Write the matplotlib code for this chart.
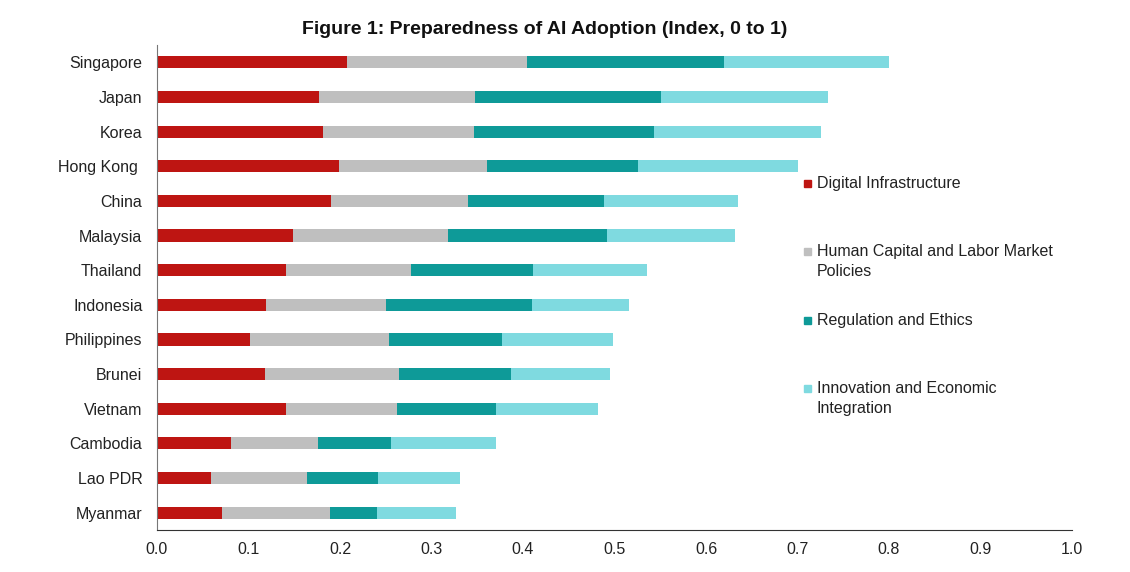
import numpy as np
import matplotlib.pyplot as plt
from matplotlib.patches import Rectangle

countries = ["Singapore", "Japan", "Korea", "Hong Kong ", "China", "Malaysia", "Thailand",
             "Indonesia", "Philippines", "Brunei", "Vietnam", "Cambodia", "Lao PDR", "Myanmar"]

digital = [0.208, 0.177, 0.181, 0.199, 0.190, 0.149, 0.141, 0.119, 0.102, 0.118, 0.141, 0.081, 0.059, 0.071]
human = [0.196, 0.171, 0.165, 0.162, 0.150, 0.169, 0.137, 0.131, 0.152, 0.147, 0.121, 0.095, 0.105, 0.118]
regulation = [0.216, 0.203, 0.197, 0.165, 0.148, 0.174, 0.133, 0.160, 0.123, 0.122, 0.109, 0.080, 0.077, 0.051]
innovation = [0.180, 0.182, 0.183, 0.175, 0.147, 0.140, 0.125, 0.106, 0.121, 0.108, 0.111, 0.114, 0.090, 0.087]

series_names = ["Digital Infrastructure", "Human Capital and Labor Market\nPolicies",
                "Regulation and Ethics", "Innovation and Economic\nIntegration"]
colors = ["#BE1512", "#BFBFBF", "#0E9A98", "#7FDAE0"]

plt.rcParams['font.family'] = ['Liberation Sans', 'DejaVu Sans']

fig = plt.figure(figsize=(11.3, 5.72), dpi=100)
ax = fig.add_axes([157 / 1130, 1 - 530 / 572, (1072 - 157) / 1130, 485 / 572])

y = np.arange(len(countries))
left = np.zeros(len(countries))
for vals, col in zip([digital, human, regulation, innovation], colors):
    ax.barh(y, vals, left=left, height=0.35, color=col, edgecolor='none')
    left += np.array(vals)

ax.set_ylim(len(countries) - 0.5, -0.5)
ax.set_xlim(0, 1.0)
ax.set_yticks(y)
ax.set_yticklabels(countries, fontsize=11.5, color='#222222')
ax.set_xticks(np.arange(0, 1.01, 0.1))
ax.set_xticklabels([f"{v:.1f}" for v in np.arange(0, 1.01, 0.1)], fontsize=11.5, color='#222222')
ax.tick_params(axis='both', length=0)
ax.tick_params(axis='y', pad=10.5)
ax.tick_params(axis='x', pad=9)
for s in ['top', 'right']:
    ax.spines[s].set_visible(False)
ax.spines['left'].set_color('#777777')
ax.spines['bottom'].set_color('#333333')

fig.text(545 / 1130, 1 - 29 / 572, "Figure 1: Preparedness of AI Adoption (Index, 0 to 1)",
         ha='center', va='center', fontsize=14, fontweight='bold', color='#111111')

legend_y = [183, 251, 320, 388]
for name, col, ly in zip(series_names, colors, legend_y):
    fig.patches.append(Rectangle((804 / 1130, 1 - (ly + 4) / 572), 7 / 1130, 7 / 572,
                                 transform=fig.transFigure, color=col, figure=fig))
    fig.text(817 / 1130, 1 - (ly - 7) / 572, name, ha='left', va='top', fontsize=11.5,
             color='#222222', linespacing=1.4)

fig.savefig("out.png", dpi=100)
